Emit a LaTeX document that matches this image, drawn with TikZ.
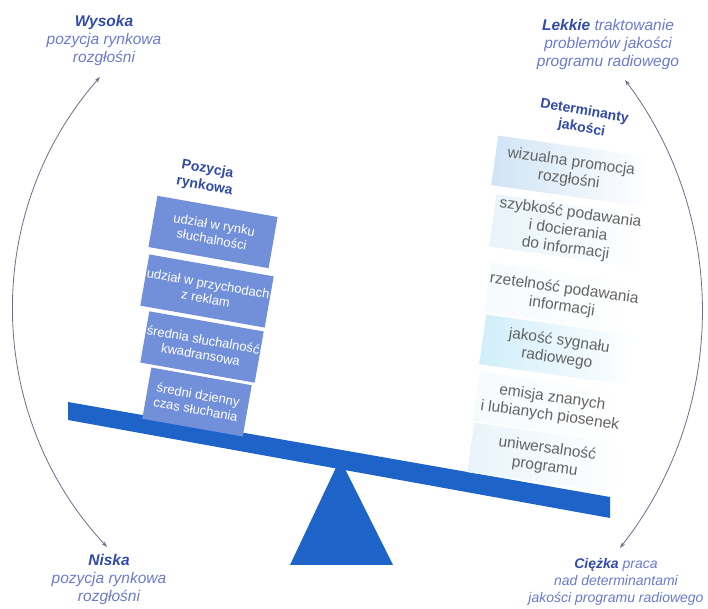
\documentclass[tikz,border=0pt]{standalone}
\usepackage{fontspec}
\setmainfont{Liberation Sans}
\usetikzlibrary{arrows.meta}

\definecolor{belka}{RGB}{30,100,200}
\definecolor{slupek}{RGB}{114,144,218}
\definecolor{tytul}{RGB}{50,75,170}
\definecolor{opis}{RGB}{105,122,208}
\definecolor{szary}{RGB}{100,100,100}
\definecolor{lukkolor}{RGB}{115,105,140}
\definecolor{jasny}{RGB}{208,228,246}
\definecolor{cyjan}{RGB}{208,238,250}
\definecolor{blady}{RGB}{232,244,250}

\begin{document}
\begin{tikzpicture}
  [x=1pt,y=1pt,
   pozycja/.style={fill=slupek,text=white,rotate=-10,align=center,
     minimum height=52pt,inner sep=1pt,font=\fontsize{13}{15}\selectfont},
   determinanta/.style={right color=white,rotate=-8,align=center,
     minimum width=152pt,minimum height=50pt,inner sep=1pt,text=szary,
     font=\fontsize{15.5}{18}\selectfont},
   naglowek/.style={text=tytul,rotate=-10,align=center,
     font=\bfseries\fontsize{14}{17}\selectfont},
   biegun/.style={text=opis,align=center,font=\itshape\fontsize{15.5}{18}\selectfont},
   luk/.style={draw=lukkolor,line width=0.8pt,{Stealth[length=6pt,width=4pt]}-{Stealth[length=6pt,width=4pt]}}]
  \useasboundingbox (0,0) rectangle (708,609);

  % waga: podpora i belka
  \fill[belka] (340,150) -- (393,44) -- (290,44) -- cycle;
  \fill[belka] (68,207) -- (610,112) -- (610,91) -- (68,189) -- cycle;

  % lewa szala
  \node[naglowek] (pozycjaTyt) at (206,431) {Pozycja\\rynkowa};
  \foreach \n/\x/\y/\w/\t in {p1/213/377/122/{udział w rynku\\słuchalności},
                              p2/207/318/123/{udział w przychodach\\z reklam},
                              p3/202/262/116/{średnia słuchalność\\kwadransowa},
                              p4/197/207/102/{średni dzienny\\czas słuchania}}
    \node[pozycja,minimum width=\w pt] (\n) at (\x,\y) {\t};

  % prawa szala
  \node[naglowek] (determTyt) at (583,489) {Determinanty\\jakości};
  \foreach \n/\x/\y/\k/\t in {d1/570/438/jasny/{wizualna promocja\\rozgłośni},
                              d2/568/378/blady/{szybkość podawania\\i docierania\\do informacji},
                              d3/563/311/blady!40/{rzetelność podawania\\informacji},
                              d4/558/259/cyjan/{jakość sygnału\\radiowego},
                              d5/551/202/blady!40/{emisja znanych\\i lubianych piosenek},
                              d6/546/151/blady/{uniwersalność\\programu}}
    \node[determinanta,left color=\k] (\n) at (\x,\y) {\t};

  % opisy biegunow
  \node[biegun] (wysoka) at (104,568) {{\color{tytul}\bfseries Wysoka}\\pozycja rynkowa\\rozgłośni};
  \node[biegun] (niska) at (109,30) {{\color{tytul}\bfseries Niska}\\pozycja rynkowa\\rozgłośni};
  \node[biegun] (lekkie) at (608,564) {{\color{tytul}\bfseries Lekkie} traktowanie\\problemów jakości\\programu radiowego};
  \node[biegun,font=\itshape\fontsize{14}{17}\selectfont] (ciezka) at (616,27)
    {{\color{tytul}\bfseries Ciężka} praca\\nad determinantami\\jakości programu radiowego};

  % luki miedzy biegunami
  \coordinate (lg) at (100,532);
  \coordinate (pg) at (625,529);
  \draw[luk] (lg) arc[start angle=138.75,end angle=222.96,radius=350.5];
  \draw[luk] (pg) arc[start angle=36.87,end angle=-38.1,radius=384.5];
\end{tikzpicture}
\end{document}
